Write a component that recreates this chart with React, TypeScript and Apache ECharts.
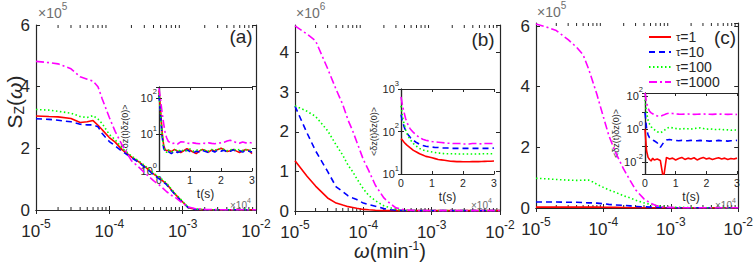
import React, { useEffect, useRef } from 'react';
import * as echarts from 'echarts';

// ---------------- data ----------------
const OMEGA = [1e-5, 1.5e-5, 2e-5, 3e-5, 4e-5, 5e-5, 6e-5, 7e-5, 8e-5, 1e-4, 1.2e-4, 1.5e-4, 2e-4, 2.5e-4, 3e-4, 4e-4, 5e-4, 6e-4, 7e-4, 8e-4, 1e-3, 1.2e-3, 1.5e-3, 2e-3, 3e-3, 5e-3, 1e-2];

// panel (a)  x10^5
const A_RED = [3.05, 3.03, 3.02, 2.97, 2.84, 2.86, 2.9, 2.75, 2.6, 2.35, 2.2, 1.95, 1.72, 1.57, 1.42, 1.17, 1.0, 0.85, 0.66, 0.5, 0.26, 0.07, 0.02, 0.01, 0.01, 0.01, 0.01];
const A_BLUE = [2.96, 2.94, 2.91, 2.86, 2.78, 2.76, 2.76, 2.7, 2.48, 2.22, 2.08, 1.9, 1.7, 1.55, 1.4, 1.15, 0.98, 0.83, 0.64, 0.48, 0.25, 0.07, 0.02, 0.01, 0.01, 0.01, 0.01];
const A_GREEN = [3.26, 3.24, 3.2, 3.14, 3.03, 3.0, 3.06, 2.95, 2.8, 2.45, 2.28, 2.0, 1.75, 1.6, 1.45, 1.2, 1.03, 0.88, 0.68, 0.52, 0.28, 0.08, 0.03, 0.01, 0.01, 0.01, 0.01];
const A_MAG = [4.82, 4.78, 4.74, 4.58, 4.32, 4.24, 4.18, 4.0, 3.6, 3.0, 2.55, 2.1, 1.6, 1.4, 1.22, 0.95, 0.78, 0.6, 0.48, 0.4, 0.22, 0.1, 0.04, 0.02, 0.01, 0.01, 0.01];

// panel (b)  x10^6
const B_RED = [1.27, 0.88, 0.63, 0.33, 0.2, 0.15, 0.11, 0.09, 0.07, 0.04, 0.03, 0.02, 0.01, 0.01, 0.01, 0.01, 0.01, 0.01, 0.01, 0.01, 0.01, 0.01, 0.01, 0.01, 0.01, 0.01, 0.01];
const B_BLUE = [2.65, 1.97, 1.52, 1.0, 0.61, 0.49, 0.38, 0.33, 0.29, 0.2, 0.16, 0.12, 0.06, 0.03, 0.02, 0.01, 0.01, 0.01, 0.01, 0.01, 0.01, 0.01, 0.01, 0.01, 0.01, 0.01, 0.01];
const B_GREEN = [2.66, 2.52, 2.39, 2.03, 1.67, 1.41, 1.15, 0.99, 0.82, 0.56, 0.39, 0.26, 0.13, 0.08, 0.04, 0.02, 0.01, 0.01, 0.01, 0.01, 0.01, 0.01, 0.01, 0.01, 0.01, 0.01, 0.01];
const B_MAG = [4.68, 4.47, 4.3, 3.6, 3.07, 2.69, 2.29, 2.02, 1.75, 1.3, 1.02, 0.65, 0.33, 0.18, 0.08, 0.03, 0.02, 0.01, 0.01, 0.01, 0.01, 0.01, 0.01, 0.01, 0.01, 0.01, 0.01];

// panel (c)  x10^5
const C_RED = [0.03, 0.03, 0.03, 0.03, 0.03, 0.03, 0.03, 0.03, 0.03, 0.025, 0.02, 0.02, 0.015, 0.01, 0.01, 0.01, 0.01, 0.01, 0.01, 0.01, 0.01, 0.01, 0.01, 0.01, 0.01, 0.01, 0.01];
const C_BLUE = [0.2, 0.2, 0.2, 0.19, 0.19, 0.18, 0.17, 0.17, 0.16, 0.14, 0.12, 0.1, 0.09, 0.07, 0.05, 0.04, 0.03, 0.02, 0.02, 0.01, 0.01, 0.01, 0.01, 0.01, 0.01, 0.01, 0.01];
const C_GREEN = [0.98, 0.96, 0.94, 0.92, 0.91, 0.92, 0.92, 0.86, 0.78, 0.68, 0.6, 0.52, 0.4, 0.33, 0.26, 0.17, 0.12, 0.08, 0.06, 0.05, 0.03, 0.02, 0.02, 0.01, 0.01, 0.01, 0.01];
const C_MAG = [6.07, 5.95, 5.85, 5.55, 5.3, 5.05, 4.6, 4.15, 3.75, 3.0, 2.4, 1.85, 1.28, 0.9, 0.6, 0.3, 0.16, 0.08, 0.05, 0.03, 0.02, 0.01, 0.01, 0.01, 0.01, 0.01, 0.01];

// insets: time (s)
const T = [0, 500, 1000, 1500, 2000, 2500, 3000, 4000, 5000, 6000, 7000, 8000, 9000, 10000, 11000, 12000, 13000, 14000, 15000, 16000, 17000, 18000, 19000, 20000, 21000, 22000, 23000, 24000, 25000, 26000, 27000, 28000, 29000, 30000];

const IA_RED = [160, 45, 12, 5, 3.8, 3.6, 3.7, 3.4, 3.9, 3.5, 3.2, 3.6, 4.1, 3.7, 3.3, 3.0, 3.5, 3.9, 3.6, 3.3, 3.8, 3.5, 3.9, 4.2, 3.8, 3.4, 3.6, 3.9, 3.5, 3.2, 3.6, 3.9, 3.7, 3.0];
const IA_BLUE = [120, 35, 9, 4.2, 3.5, 3.3, 3.4, 3.0, 3.6, 3.2, 3.5, 3.3, 3.8, 3.4, 3.1, 3.5, 3.3, 3.7, 3.4, 3.2, 3.6, 3.3, 3.8, 3.5, 3.7, 3.3, 3.5, 3.8, 3.4, 3.6, 3.3, 3.7, 3.5, 3.3];
const IA_GREEN = [140, 40, 10, 4.5, 3.6, 3.2, 3.8, 3.3, 3.7, 3.9, 3.4, 3.8, 3.6, 4.0, 3.5, 3.7, 3.9, 3.6, 3.8, 3.5, 3.9, 3.7, 4.0, 4.1, 3.9, 3.6, 3.8, 4.0, 3.7, 3.9, 3.6, 3.8, 3.9, 3.5];
const IA_MAG = [185, 90, 40, 20, 11, 8, 6.5, 5.6, 5.8, 5.5, 6.3, 6.2, 5.8, 5.7, 5.9, 5.7, 5.6, 5.8, 5.7, 5.9, 5.7, 5.6, 5.8, 5.9, 6.1, 6.6, 7.0, 6.4, 6.0, 5.8, 6.2, 5.9, 6.1, 5.8];

const IB_RED = [68, 62, 56, 51, 47, 44, 41, 36, 33, 30, 28, 26, 25, 24, 23, 22, 21.5, 21, 20.5, 20, 19.8, 19.6, 19.5, 19.4, 19.4, 19.4, 19.5, 19.5, 19.6, 19.7, 19.8, 19.9, 20, 20.2];
const IB_BLUE = [250, 170, 130, 105, 90, 80, 72, 62, 55, 50, 47, 45, 44, 43, 42, 42, 41, 41, 41, 40, 40, 40, 40, 40, 40, 40, 40, 40, 40, 40, 40, 40, 40, 41];
const IB_GREEN = [400, 220, 150, 110, 88, 74, 64, 52, 45, 40, 37, 35, 34, 33, 32, 31, 31, 30, 30, 30, 30, 29.5, 29.5, 29.5, 29.5, 29.5, 29.5, 29.5, 29.5, 30, 30, 30, 30, 30];
const IB_MAG = [650, 400, 280, 200, 160, 130, 115, 95, 82, 72, 66, 62, 60, 58, 57, 56, 55, 54, 53, 53, 52, 52, 52, 51, 51, 51, 52, 52, 52, 51, 52, 52, 52, 52];

const IC_RED = [1.0, 0.05, 0.02, 0.015, 0.012, 0.018, 0.014, 0.016, 0.013, 0.001, 0.02, 0.016, 0.018, 0.014, 0.017, 0.02, 0.015, 0.018, 0.016, 0.019, 0.014, 0.017, 0.02, 0.016, 0.018, 0.015, 0.017, 0.019, 0.016, 0.018, 0.015, 0.017, 0.016, 0.018];
const IC_BLUE = [10, 1.2, 0.45, 0.3, 0.25, 0.22, 0.2, 0.15, 0.08, 0.15, 0.22, 0.24, 0.22, 0.21, 0.2, 0.21, 0.2, 0.2, 0.21, 0.2, 0.2, 0.21, 0.2, 0.2, 0.19, 0.2, 0.2, 0.21, 0.2, 0.2, 0.19, 0.2, 0.2, 0.21];
const IC_GREEN = [60, 10, 3.5, 2.0, 1.4, 1.1, 0.95, 0.7, 0.6, 0.75, 1.1, 1.3, 1.2, 1.1, 1.05, 1.0, 1.1, 1.05, 1.0, 1.1, 1.15, 1.2, 1.1, 1.0, 1.05, 1.0, 0.95, 1.0, 0.9, 0.95, 0.9, 0.85, 0.9, 0.88];
const IC_MAG = [150, 40, 18, 12, 9.5, 8.5, 7.5, 6.2, 6.0, 7.0, 8.5, 9.2, 8.8, 8.3, 8.0, 7.9, 8.0, 8.1, 8.0, 7.8, 7.9, 8.0, 8.1, 8.0, 7.9, 7.8, 8.0, 8.1, 8.0, 7.9, 7.8, 7.9, 7.8, 7.7];

const NAMES = ['τ=1', 'τ=10', 'τ=100', 'τ=1000'];
const MINOR_X = [2e-5, 3e-5, 4e-5, 5e-5, 6e-5, 7e-5, 8e-5, 9e-5, 2e-4, 3e-4, 4e-4, 5e-4, 6e-4, 7e-4, 8e-4, 9e-4, 2e-3, 3e-3, 4e-3, 5e-3, 6e-3, 7e-3, 8e-3, 9e-3];

// ---------------- styles ----------------
const FONT = '"Liberation Sans", Arial, Helvetica, sans-serif';
const AX = '#262626';
const GRAY = '#6e6e6e';
const COLORS = ['#ff0000', '#0000ff', '#00ff00', '#ff00ff'];
const DASHES: any[] = ['solid', [6, 4], [1.5, 2.5], [8, 3, 2, 3]];

const MAIN_GRIDS = [
  { left: 36, top: 25, width: 220, height: 185 },
  { left: 295, top: 25, width: 205, height: 186 },
  { left: 536, top: 23, width: 205, height: 185 },
];
const INSET_GRIDS = [
  { left: 159, top: 87, width: 93, height: 84 },
  { left: 401, top: 89, width: 93, height: 85 },
  { left: 645, top: 93, width: 92, height: 81 },
];
const MAIN_YMAX = [6, 4.7, 6.1];
const MAIN_YINT = [2, 1, 2];
const INSET_YMIN = [1, 10, 0.002];
const INSET_YMAX = [200, 1000, 150];

const pts = (xs: number[], ys: number[]) => xs.map((x, i) => [x, ys[i]]);

const isPow = (v: number) => Math.abs(Math.log10(v) - Math.round(Math.log10(v))) < 1e-6;

export default function App() {
  const ref = useRef<HTMLDivElement>(null);
  useEffect(() => {
    const chart = echarts.init(ref.current!, null, { renderer: 'svg' });

    const mainRich = {
      b: { fontSize: 17, fontFamily: FONT, color: AX, lineHeight: 18, verticalAlign: 'middle' },
      s: { fontSize: 12, fontFamily: FONT, color: AX, lineHeight: 12, verticalAlign: 'middle', padding: [0, 0, 14, 0] },
    };
    const insetRich = {
      b: { fontSize: 11, fontFamily: FONT, color: AX, lineHeight: 12, verticalAlign: 'middle' },
      s: { fontSize: 7.5, fontFamily: FONT, color: AX, lineHeight: 8, verticalAlign: 'middle', padding: [0, 0, 12, 0] },
    };

    const tick = { inside: true, length: 4, lineStyle: { color: AX, width: 1 } };
    const line = { show: true, lineStyle: { color: AX, width: 1.2 } };

    const xAxis: any[] = [];
    const yAxis: any[] = [];
    // main bottom
    for (let i = 0; i < 3; i++) {
      xAxis.push({
        type: 'log', logBase: 10, gridIndex: i, min: 1e-5, max: 1e-2,
        axisLine: line, axisTick: tick, splitLine: { show: false },
        axisLabel: {
          margin: 12, color: AX, rich: mainRich,
          formatter: (v: number) => (isPow(v) ? `{b|10}{s|${Math.round(Math.log10(v))}}` : ''),
        },
      });
    }
    // main top
    for (let i = 0; i < 3; i++) {
      xAxis.push({
        type: 'log', logBase: 10, gridIndex: i, min: 1e-5, max: 1e-2, position: 'top',
        axisLine: line, axisTick: tick, axisLabel: { show: false }, splitLine: { show: false },
      });
    }
    // inset bottom
    for (let i = 0; i < 3; i++) {
      xAxis.push({
        type: 'value', gridIndex: 3 + i, min: 0, max: 30000, interval: 10000,
        axisLine: line, axisTick: { ...tick, length: 3 }, splitLine: { show: false },
        axisLabel: { margin: 3, fontSize: 10.5, fontFamily: FONT, color: AX, formatter: (v: number) => String(v / 10000) },
        name: 't(s)', nameLocation: 'middle', nameGap: 17,
        nameTextStyle: { fontSize: 12, fontFamily: FONT, color: AX },
      });
    }
    // inset top
    for (let i = 0; i < 3; i++) {
      xAxis.push({
        type: 'value', gridIndex: 3 + i, min: 0, max: 30000, interval: 10000, position: 'top',
        axisLine: line, axisTick: { ...tick, length: 3 }, axisLabel: { show: false }, splitLine: { show: false },
      });
    }
    // main left
    for (let i = 0; i < 3; i++) {
      yAxis.push({
        type: 'value', gridIndex: i, min: 0, max: MAIN_YMAX[i], interval: MAIN_YINT[i],
        axisLine: line, axisTick: tick, splitLine: { show: false },
        axisLabel: {
          margin: 6, fontSize: 17, fontFamily: FONT, color: AX, showMaxLabel: i === 0,
          formatter: (v: number) => (Math.abs(v - Math.round(v)) < 1e-9 ? String(Math.round(v)) : ''),
        },
      });
    }
    // main right
    for (let i = 0; i < 3; i++) {
      yAxis.push({
        type: 'value', gridIndex: i, min: 0, max: MAIN_YMAX[i], interval: MAIN_YINT[i], position: 'right',
        axisLine: line, axisTick: tick, axisLabel: { show: false }, splitLine: { show: false },
      });
    }
    // inset left
    const yGaps = [30, 21, 24];
    for (let i = 0; i < 3; i++) {
      yAxis.push({
        type: 'log', logBase: 10, gridIndex: 3 + i, min: INSET_YMIN[i], max: INSET_YMAX[i],
        axisLine: line, axisTick: { ...tick, length: 3 }, splitLine: { show: false },
        axisLabel: {
          margin: 2, rich: insetRich,
          formatter: (v: number) => {
            if (!isPow(v)) return '';
            const e = Math.round(Math.log10(v));
            if (i === 2 && e % 2 !== 0) return '';
            return `{b|10}{s|${e}}`;
          },
        },
        name: '<δz(t)δz(0)>', nameLocation: 'middle', nameGap: yGaps[i], nameRotate: 90,
        nameTextStyle: { fontSize: 9, fontFamily: FONT, color: AX },
      });
    }
    // inset right
    for (let i = 0; i < 3; i++) {
      yAxis.push({
        type: 'log', logBase: 10, gridIndex: 3 + i, min: INSET_YMIN[i], max: INSET_YMAX[i], position: 'right',
        axisLine: line, axisTick: { ...tick, length: 3 }, axisLabel: { show: false }, splitLine: { show: false },
      });
    }

    const series: any[] = [];
    const mk = (k: number, xi: number, yi: number, xs: number[], ys: number[]) => ({
      type: 'line', name: NAMES[k], xAxisIndex: xi, yAxisIndex: yi, data: pts(xs, ys),
      showSymbol: false, symbol: 'none', silent: true, z: 3 + k,
      lineStyle: { color: COLORS[k], width: 1.6, type: DASHES[k] },
      itemStyle: { color: COLORS[k] },
    });
    const mainSets = [
      [A_RED, A_BLUE, A_GREEN, A_MAG],
      [B_RED, B_BLUE, B_GREEN, B_MAG],
      [C_RED, C_BLUE, C_GREEN, C_MAG],
    ];
    const insetSets = [
      [IA_RED, IA_BLUE, IA_GREEN, IA_MAG],
      [IB_RED, IB_BLUE, IB_GREEN, IB_MAG],
      [IC_RED, IC_BLUE, IC_GREEN, IC_MAG],
    ];
    for (let p = 0; p < 3; p++) {
      for (let k = 0; k < 4; k++) series.push(mk(k, p, p, OMEGA, mainSets[p][k]));
      for (let k = 0; k < 4; k++) series.push(mk(k, 6 + p, 6 + p, T, insetSets[p][k]));
      // minor log ticks on the bottom and top edges, placed by the axis scale
      const ymax = MAIN_YMAX[p];
      series.push({
        type: 'custom', xAxisIndex: p, yAxisIndex: p, silent: true, z: 2, clip: false,
        data: MINOR_X.map((x) => [x, 0]),
        encode: { x: 0, y: 1 },
        renderItem: (_params: any, api: any) => {
          const x = api.value(0);
          const b = api.coord([x, 0]);
          const t = api.coord([x, ymax]);
          return {
            type: 'group',
            children: [
              { type: 'line', shape: { x1: b[0], y1: b[1], x2: b[0], y2: b[1] - 3 }, style: { stroke: AX, lineWidth: 1 } },
              { type: 'line', shape: { x1: t[0], y1: t[1], x2: t[0], y2: t[1] + 3 }, style: { stroke: AX, lineWidth: 1 } },
            ],
          };
        },
      });
    }

    const txt = (x: number, y: number, text: string, extra: any = {}, rot = 0) => ({
      type: 'text', x, y, rotation: rot, silent: true, z: 10,
      style: { text, fontFamily: FONT, fill: AX, align: 'center', verticalAlign: 'middle', ...extra },
    });
    const expRich = (base: number, sup: number, pad: number, color: string) => ({
      b: { fontSize: base, fontFamily: FONT, fill: color, lineHeight: base + 1 },
      s: { fontSize: sup, fontFamily: FONT, fill: color, lineHeight: sup, padding: [0, 0, pad, 0] },
    });

    const graphic: any[] = [
      txt(241, 36, '(a)', { fontSize: 19 }),
      txt(483, 39, '(b)', { fontSize: 19 }),
      txt(725, 37, '(c)', { fontSize: 19 }),
      { ...txt(38, 13, '{b|×10}{s|5}', { align: 'left', rich: expRich(14, 10, 14, GRAY) }) },
      { ...txt(296, 13, '{b|×10}{s|6}', { align: 'left', rich: expRich(14, 10, 14, GRAY) }) },
      { ...txt(537, 12, '{b|×10}{s|5}', { align: 'left', rich: expRich(14, 10, 14, GRAY) }) },
      { ...txt(230, 205, '{b|×10}{s|4}', { align: 'left', rich: expRich(10, 7, 10, GRAY) }) },
      { ...txt(471, 205, '{b|×10}{s|4}', { align: 'left', rich: expRich(10, 7, 10, GRAY) }) },
      { ...txt(715, 205, '{b|×10}{s|4}', { align: 'left', rich: expRich(10, 7, 10, GRAY) }) },
      txt(14, 102, '{n|S}{z|Z}{n|(}{w|ω}{n|)}', {
        rich: {
          n: { fontSize: 21, fontFamily: FONT, fill: AX, lineHeight: 22 },
          w: { fontSize: 21, fontFamily: FONT, fontStyle: 'italic', fill: AX, lineHeight: 22 },
          z: { fontSize: 14, fontFamily: FONT, fill: AX, lineHeight: 14, padding: [10, 0, 0, 0] },
        },
      }, Math.PI / 2),
      txt(390, 251, '{w|ω}{n|(min}{s|-1}{n|)}', {
        rich: {
          n: { fontSize: 20, fontFamily: FONT, fill: AX, lineHeight: 19 },
          w: { fontSize: 20, fontFamily: FONT, fontStyle: 'italic', fill: AX, lineHeight: 19 },
          s: { fontSize: 12, fontFamily: FONT, fill: AX, lineHeight: 12, padding: [0, 0, 10, 0] },
        },
      }),
    ];

    const option: any = {
      animation: false,
      backgroundColor: '#ffffff',
      grid: [...MAIN_GRIDS, ...INSET_GRIDS].map((g) => ({ ...g, containLabel: false })),
      xAxis,
      yAxis,
      series,
      legend: {
        data: NAMES, orient: 'vertical', left: 643, top: 25,
        itemWidth: 22, itemHeight: 14, itemGap: 1, selectedMode: false,
        itemStyle: { opacity: 0 },
        formatter: (n: string) => `{t|τ}{n|${n.slice(1)}}`,
        textStyle: {
          color: AX, fontFamily: FONT,
          rich: {
            t: { fontSize: 11, fontFamily: FONT, color: AX, lineHeight: 14 },
            n: { fontSize: 14, fontFamily: FONT, color: AX, lineHeight: 14 },
          },
        },
      },
      graphic,
    };
    chart.setOption(option);
    return () => chart.dispose();
  }, []);
  return <div ref={ref} style={{ position: 'absolute', left: 0, top: 0, width: 756, height: 262 }} />;
}
